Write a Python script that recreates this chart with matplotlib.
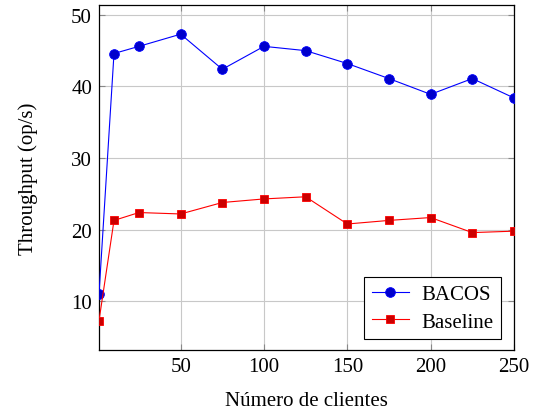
import matplotlib.pyplot as plt

# throughput per number of clients
clients = [1, 10, 25, 50, 75, 100, 125, 150, 175, 200, 225, 250]
bacos = [11.0, 44.6, 45.6, 47.3, 42.4, 45.6, 45.0, 43.2, 41.1, 38.9, 41.1, 38.4]
baseline = [7.3, 21.3, 22.4, 22.2, 23.8, 24.3, 24.6, 20.8, 21.3, 21.7, 19.6, 19.8]

xticks = [50, 100, 150, 200, 250]
yticks = [10, 20, 30, 40, 50]

plt.rcParams["font.family"] = ["Liberation Serif", "DejaVu Serif"]
plt.rcParams["font.size"] = 15

fig = plt.figure(figsize=(5.41, 4.14), dpi=100)
ax = fig.add_axes([0.183, 0.152, 0.767, 0.834])

ax.plot(clients, bacos, color="#0000ff", linewidth=0.8, marker="o", markersize=7,
        markerfacecolor="#0000cc", markeredgecolor="#0000ff", markeredgewidth=0.6,
        label="BACOS", zorder=3)
ax.plot(clients, baseline, color="#ff0000", linewidth=0.8, marker="s", markersize=6.3,
        markerfacecolor="#cc0000", markeredgecolor="#ff0000", markeredgewidth=0.6,
        label="Baseline", zorder=3)

ax.set_xlim(1, 250)
ax.set_ylim(3.2, 51.4)
ax.set_xticks(xticks)
ax.set_yticks(yticks)
ax.grid(True, color="#c8c8c8", linewidth=0.8)
ax.set_axisbelow(True)
ax.tick_params(direction="in", top=True, right=True, length=4, color="#888888",
               labelsize=15, pad=5)
for spine in ax.spines.values():
    spine.set_linewidth(0.9)

ax.set_xlabel("Número de clientes", fontsize=15, labelpad=11)
ax.set_ylabel("Throughput (op/s)", fontsize=15, labelpad=24)

leg = ax.legend(loc="lower right", fontsize=15, fancybox=False, framealpha=1,
                edgecolor="black", borderpad=0.35, handlelength=1.8,
                handletextpad=0.6, labelspacing=0.4, borderaxespad=0,
                bbox_to_anchor=(0.969, 0.032))
leg.get_frame().set_linewidth(0.8)

fig.savefig("out.png", dpi=100)
